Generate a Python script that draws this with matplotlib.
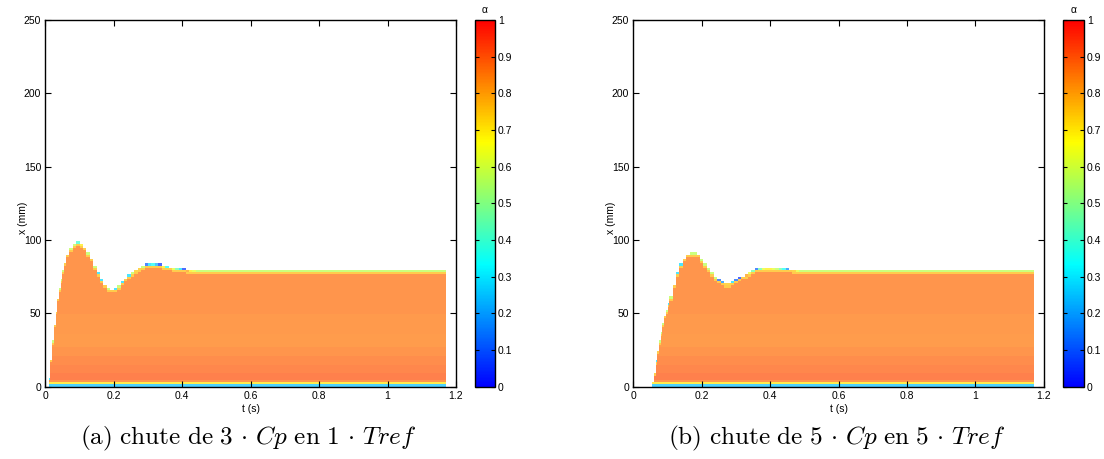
import numpy as np
import matplotlib
matplotlib.use("Agg")
import matplotlib.pyplot as plt
from matplotlib.colors import LinearSegmentedColormap, Normalize
from matplotlib.cm import ScalarMappable

plt.rcParams['font.family'] = ['Liberation Sans', 'DejaVu Sans']
plt.rcParams['mathtext.fontset'] = 'cm'

# ---------------- data ----------------
# column edges (s) and free-surface height (mm) per column, panel (a)
t_edges_a = [0.010, 0.015, 0.020, 0.025, 0.030, 0.035, 0.040, 0.045, 0.050, 0.055,
             0.06, 0.07, 0.08, 0.09, 0.10,
             0.11, 0.12, 0.13, 0.14, 0.15, 0.16, 0.17, 0.18, 0.19, 0.20,
             0.21, 0.22, 0.23, 0.24, 0.25, 0.26, 0.27, 0.28, 0.29, 0.30,
             0.31, 0.32, 0.33, 0.34, 0.35, 0.36, 0.37, 0.38, 0.39, 0.40,
             0.41, 0.42, 0.43, 0.44, 0.45, 1.17]
h_a = [5, 18, 31, 42, 51, 60, 67, 73, 79, 84,
       90, 94, 97, 98.2, 97.2,
       94.5, 91, 87, 82, 77, 72.5, 69, 67, 66, 66.5,
       68.5, 71, 73.5, 75.5, 77.5, 79.3, 80.8, 82, 82.7, 83.0,
       83.1, 82.9, 82.6, 82.2, 81.6, 81.0, 80.6, 80.3, 80.0, 79.6,
       79.4, 79.2, 79.1, 79.0, 79.0]

# panel (b)
t_edges_b = [0.055, 0.060, 0.065, 0.070, 0.075, 0.080, 0.085, 0.090, 0.095, 0.100,
             0.105, 0.115, 0.125, 0.135, 0.145,
             0.155, 0.165, 0.175, 0.185, 0.195, 0.205, 0.215, 0.225, 0.235, 0.245,
             0.255, 0.265, 0.275, 0.285, 0.295, 0.305, 0.315, 0.325, 0.335, 0.345,
             0.355, 0.365, 0.375, 0.385, 0.395, 0.405, 0.415, 0.425, 0.435, 0.445,
             0.455, 0.465, 0.475, 0.485, 1.17]
h_b = [3, 9, 17, 24, 31, 37, 43, 48, 52, 56,
       61, 69, 77, 83, 87,
       90, 91, 91, 90, 86.5, 83.5, 80.5, 77.5, 74.5, 72.2,
       70.8, 70.3, 70.3, 71, 72.2, 73.6, 75, 76.4, 77.6, 78.8,
       79.7, 80.3, 80.6, 80.7, 80.7, 80.6, 80.5, 80.3, 80.1, 79.8,
       79.5, 79.3, 79.1, 79.0]

# vertical profile of the volume fraction (piecewise bands, top of band in mm)
band_top = [1.5, 3.0, 4.5, 9, 15, 21, 27, 36, 50, 65, 300]
band_alpha = [0.25, 0.70, 0.86, 0.90, 0.89, 0.875, 0.86, 0.85, 0.855, 0.86, 0.86]
alpha_below_surface = 0.76

x_ticks = [0, 0.2, 0.4, 0.6, 0.8, 1, 1.2]
x_ticklabels = ['0', '0.2', '0.4', '0.6', '0.8', '1', '1.2']
y_ticks = [0, 50, 100, 150, 200, 250]
cb_ticks = [0, 0.1, 0.2, 0.3, 0.4, 0.5, 0.6, 0.7, 0.8, 0.9, 1]
cb_ticklabels = ['0', '0.1', '0.2', '0.3', '0.4', '0.5', '0.6', '0.7', '0.8', '0.9', '1']

captions = [r"$\mathrm{(a)\ chute\ de\ }3\,\cdot\,Cp\mathrm{\ en\ }1\,\cdot\,Tref$",
            r"$\mathrm{(b)\ chute\ de\ }5\,\cdot\,Cp\mathrm{\ en\ }5\,\cdot\,Tref$"]

# ---------------- field construction ----------------
dx = 1.5
x_edges = np.arange(0, 105 + dx, dx)
x_cent = 0.5 * (x_edges[:-1] + x_edges[1:])
bulk = np.array([band_alpha[np.searchsorted(band_top, xc)] for xc in x_cent])


def build_field(h_vals):
    C = np.full((len(x_cent), len(h_vals)), np.nan)
    for j, h in enumerate(h_vals):
        k = int(np.floor(h / dx))
        C[:k, j] = bulk[:k]
        if k - 1 >= 3:
            C[k - 1, j] = alpha_below_surface
        frac = (h - k * dx) / dx
        if frac > 0.05:
            C[k, j] = frac * bulk[k]
    return np.ma.masked_invalid(C)


cmap = LinearSegmentedColormap.from_list(
    'jetc', [(0, (0, 0, 1)), (1 / 3, (0, 1, 1)), (2 / 3, (1, 1, 0)), (1, (1, 0, 0))], N=256)
norm = Normalize(0, 1)

W, H = 1104, 459
fig = plt.figure(figsize=(W / 100, H / 100), dpi=100)

ax_pos = [(45.3, 456.0), (633.3, 1043.9)]
cb_pos = [(475, 495), (1063, 1084)]
y_top, y_bot = 20.0, 386.7

panels = [(t_edges_a, h_a), (t_edges_b, h_b)]
for i, (te, hv) in enumerate(panels):
    x0, x1 = ax_pos[i]
    ax = fig.add_axes([x0 / W, 1 - y_bot / H, (x1 - x0) / W, (y_bot - y_top) / H])
    C = build_field(hv)
    ax.pcolormesh(np.array(te), x_edges, C, cmap=cmap, norm=norm, alpha=0.7,
                  shading='flat', antialiased=False, linewidth=0)
    ax.set_xlim(0, 1.2)
    ax.set_ylim(0, 250)
    ax.set_xticks(x_ticks)
    ax.set_xticklabels(x_ticklabels)
    ax.set_yticks(y_ticks)
    ax.tick_params(direction='in', top=True, right=True, length=4, width=0.8,
                   labelsize=7.5, pad=3)
    for s in ax.spines.values():
        s.set_linewidth(1.0)
    ax.set_xlabel('t (s)', fontsize=7.5, labelpad=2)
    ax.set_ylabel('x (mm)', fontsize=7.5)
    ax.yaxis.set_label_coords(-17.5 / (x1 - x0), 0.46)

    c0, c1 = cb_pos[i]
    cax = fig.add_axes([c0 / W, 1 - y_bot / H, (c1 - c0) / W, (y_bot - y_top) / H])
    cb = fig.colorbar(ScalarMappable(norm=norm, cmap=cmap), cax=cax)
    cb.set_ticks(cb_ticks)
    cb.set_ticklabels(cb_ticklabels)
    cax.tick_params(direction='in', left=True, right=True, length=3, width=0.8,
                    labelsize=7.5, pad=2)
    cb.outline.set_linewidth(1.0)
    cax.set_title('α', fontsize=7.5, pad=5)

    fig.text((x0 + x1) / 2 / W - 0.002, 1 - 438 / H, captions[i], fontsize=18.2,
             ha='center', va='center')

fig.savefig('out.png', dpi=100)
